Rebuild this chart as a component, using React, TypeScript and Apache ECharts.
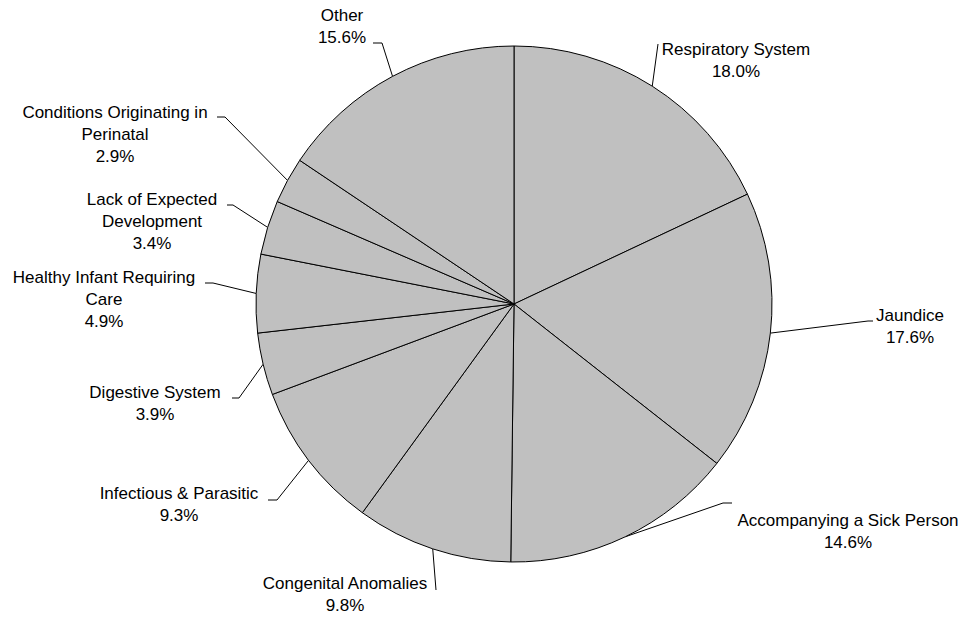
import React, { useEffect, useRef } from "react";
import * as echarts from "echarts";

// Data (clockwise from 12 o'clock)
const categories = [
  "Respiratory System",
  "Jaundice",
  "Accompanying a Sick Person",
  "Congenital Anomalies",
  "Infectious & Parasitic",
  "Digestive System",
  "Healthy Infant Requiring\nCare",
  "Lack of Expected\nDevelopment",
  "Conditions Originating in\nPerinatal",
  "Other",
];
const shares = [18.0, 17.6, 14.6, 9.8, 9.3, 3.9, 4.9, 3.4, 2.9, 15.6];

// Layout of the labels (text block centres) and their leader lines (elbow, end)
const labelCenters: number[][] = [
  [736, 60], [910, 326], [848, 531], [345, 594], [179, 504],
  [155, 403], [104, 299], [152, 221], [115, 134], [342, 26],
];
const leaderPoints: number[][][] = [
  [[658, 44], [658, 44]],
  [[868, 321], [873, 321]],
  [[723, 503], [732, 503]],
  [[436, 590], [436, 590]],
  [[277, 500], [268, 500]],
  [[239, 398], [232, 398]],
  [[213, 283], [205, 283]],
  [[233, 205], [227, 205]],
  [[225, 117], [217, 117]],
  [[382, 43], [373, 43]],
];

export default function App() {
  const ref = useRef<HTMLDivElement>(null);
  useEffect(() => {
    if (!ref.current) return;
    const chart = echarts.init(ref.current, null, { renderer: "svg" });
    chart.setOption({
      animation: false,
      backgroundColor: "#ffffff",
      series: [
        {
          type: "pie",
          center: [514, 304],
          radius: 258,
          startAngle: 90,
          clockwise: true,
          avoidLabelOverlap: false,
          silent: true,
          itemStyle: { color: "#C0C0C0", borderColor: "#000000", borderWidth: 1 },
          label: {
            show: true,
            position: "outer",
            alignTo: "none",
            formatter: (p: any) => `${p.name}\n${Number(p.value).toFixed(1)}%`,
            fontFamily: "'Liberation Sans', Arial, sans-serif",
            fontSize: 17,
            lineHeight: 22,
            color: "#000000",
            align: "center",
          },
          labelLine: {
            show: true,
            length: 10,
            length2: 10,
            smooth: false,
            lineStyle: { color: "#000000", width: 1 },
          },
          labelLayout: (params: any) => {
            const i = params.dataIndex;
            const c = labelCenters[i];
            const start = params.labelLinePoints ? params.labelLinePoints[0] : c;
            const lp = leaderPoints[i];
            return {
              x: c[0],
              y: c[1],
              align: "center",
              verticalAlign: "middle",
              labelLinePoints: [start, lp[0], lp[1]],
            };
          },
          data: categories.map((name, i) => ({ name, value: shares[i] })),
        },
      ],
    });
    return () => chart.dispose();
  }, []);
  return (
    <div
      ref={ref}
      style={{ position: "absolute", left: 0, top: 0, width: 967, height: 619 }}
    />
  );
}
